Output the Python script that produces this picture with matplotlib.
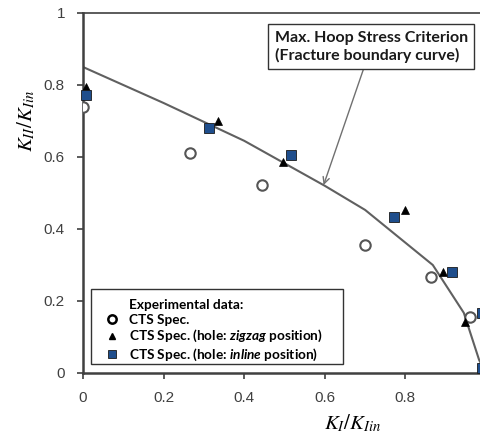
import matplotlib
matplotlib.use("Agg")
import matplotlib.pyplot as plt
from matplotlib.lines import Line2D
from matplotlib.patches import Rectangle

# Fracture boundary curve (max. hoop stress criterion)
curve_x = [0.0, 0.2, 0.4, 0.6, 0.70, 0.868, 0.945, 0.983, 1.0]
curve_y = [0.85, 0.75, 0.645, 0.52, 0.453, 0.30, 0.167, 0.036, 0.0]

# CTS specimens
cts_x = [0.0, 0.266, 0.443, 0.699, 0.863, 0.96]
cts_y = [0.74, 0.611, 0.522, 0.356, 0.267, 0.156]

# CTS hole zigzag
zig_x = [0.007, 0.336, 0.497, 0.80, 0.893, 0.948]
zig_y = [0.794, 0.70, 0.586, 0.453, 0.281, 0.142]

# CTS hole inline
inl_x = [0.007, 0.313, 0.517, 0.771, 0.915, 0.99, 0.99]
inl_y = [0.772, 0.681, 0.606, 0.433, 0.281, 0.167, 0.014]

xticks = [0, 0.2, 0.4, 0.6, 0.8, 1.0]
xticklabels = ["0", "0.2", "0.4", "0.6", "0.8", ""]
yticks = [0, 0.2, 0.4, 0.6, 0.8, 1.0]
yticklabels = ["0", "0.2", "0.4", "0.6", "0.8", "1"]

plt.rcParams['mathtext.fontset'] = 'custom'
plt.rcParams['mathtext.it'] = 'Lato:italic:bold'
plt.rcParams['mathtext.rm'] = 'Lato:bold'

W, H = 480, 433
fig = plt.figure(figsize=(W/100, H/100), dpi=100)
ax = fig.add_axes([83/W, (H-373)/H, (486-83)/W, (373-13)/H])
ax.set_xlim(0, 1)
ax.set_ylim(0, 1)

ax.plot(curve_x, curve_y, color='#606060', lw=1.5, zorder=2)
ax.plot(cts_x, cts_y, ls='none', marker='o', ms=7.5, mfc='white', mec='#555555', mew=1.5, zorder=3)
ax.plot(zig_x, zig_y, ls='none', marker='^', ms=6, mfc='black', mec='black', mew=0.5, zorder=4)
ax.plot(inl_x, inl_y, ls='none', marker='s', ms=6.5, mfc='#1F4E8C', mec='#1a1a1a', mew=0.6, zorder=5, clip_on=False)

for s in ['left', 'bottom']:
    ax.spines[s].set_linewidth(1.8)
    ax.spines[s].set_color('#404040')
ax.spines['top'].set_linewidth(1.2)
ax.spines['top'].set_color('#404040')
ax.spines['right'].set_visible(False)

ax.set_xticks(xticks)
ax.set_xticklabels(xticklabels, family='Liberation Sans', fontsize=11, color='#404040')
ax.set_yticks(yticks)
ax.set_yticklabels(yticklabels, family='Liberation Sans', fontsize=11, color='#404040')
ax.tick_params(direction='out', length=4, width=1.2, color='#404040', pad=9)

ax.text(-0.14, 0.70, r'$K_{II}/K_{Iin}$', transform=ax.transAxes, rotation=90,
        ha='center', va='center', fontsize=15, math_fontfamily='stix')
ax.text(0.67, -0.14, r'$K_{I}/K_{Iin}$', transform=ax.transAxes,
        ha='center', va='center', fontsize=15, math_fontfamily='stix')

ax.annotate('Max. Hoop Stress Criterion\n(Fracture boundary curve)',
            xy=(0.597, 0.522), xytext=(0.715, 0.906), textcoords='data',
            fontsize=11.5, family='Lato', weight='bold', color='#1a1a1a',
            ha='center', va='center', multialignment='left',
            bbox=dict(boxstyle='square,pad=0.42', fc='white', ec='#333333', lw=1),
            arrowprops=dict(arrowstyle='->', color='#707070', lw=1, shrinkA=0, shrinkB=0),
            zorder=6)

# legend frame
ax.add_patch(Rectangle((0.0199, 0.025), 0.645 - 0.0199, 0.233 - 0.025, transform=ax.transAxes,
                       fc='white', ec='#333333', lw=1.0, zorder=7))

handles = [
    Line2D([], [], ls='none', marker=None),
    Line2D([], [], ls='none', marker='o', ms=6, mfc='white', mec='black', mew=1.8),
    Line2D([], [], ls='none', marker='^', ms=5, mfc='black', mec='black'),
    Line2D([], [], ls='none', marker='s', ms=6, mfc='#1F4E8C', mec='#1a1a1a', mew=0.6),
]
labels = [
    'Experimental data:',
    'CTS Spec.',
    r'CTS Spec. (hole: $zigzag$ position)',
    r'CTS Spec. (hole: $inline$ position)',
]
leg = ax.legend(handles, labels, loc='upper left', bbox_to_anchor=(0.0199, 0.233),
                borderaxespad=0, frameon=False,
                prop={'family': 'Lato', 'weight': 'bold', 'size': 9.8},
                labelspacing=0.18, handlelength=1.6, handletextpad=0.46,
                borderpad=0.75, markerscale=1.0)
leg.set_zorder(8)

fig.savefig('out.png', dpi=100)
